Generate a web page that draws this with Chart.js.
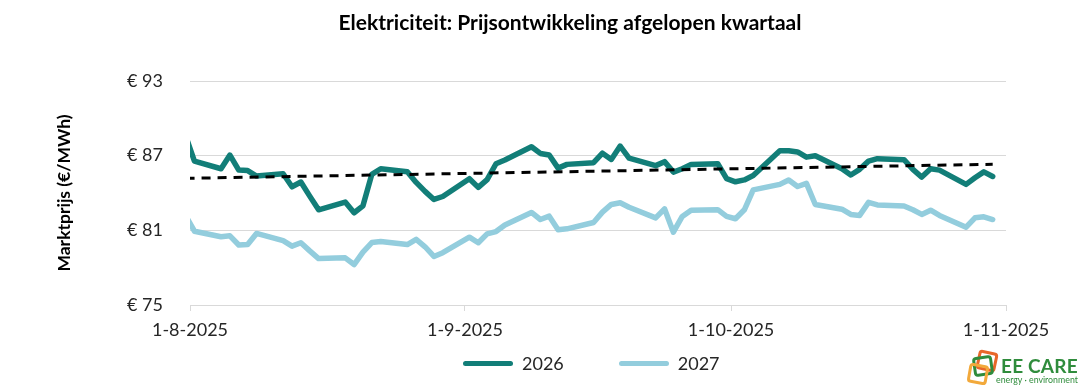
<!DOCTYPE html>
<html lang="nl">
<head>
<meta charset="utf-8">
<title>Elektriciteit: Prijsontwikkeling afgelopen kwartaal</title>
<script src="https://cdn.jsdelivr.net/npm/chart.js@4.4.1/dist/chart.umd.min.js"></script>
<style>
  body { margin: 0; background: #fff; font-family: Lato, sans-serif; }
  .wrap { position: relative; width: 1083px; height: 390px; }
  .chart-title { position: absolute; top: 9px; left: 570px; transform: translateX(-50%); font-weight: bold; font-size: 21px; color: #000; white-space: nowrap; }
  .legend { position: absolute; top: 352px; left: 463px; display: flex; align-items: center; font-size: 18px; color: #262626; }
  .legend .item { display: flex; align-items: center; margin-right: 55px; }
  .legend .swatch { width: 50px; height: 5px; border-radius: 3px; margin-right: 9px; }
  .logo { position: absolute; left: 966px; top: 346px; width: 115px; height: 42px; }
  .logo .sq { position: absolute; width: 14px; height: 14px; border: 3px solid; border-radius: 4px; }
  .logo .name { position: absolute; left: 35px; top: 8px; font-size: 19px; font-weight: bold; color: #2f8c3c; letter-spacing: 0.2px; }
  .logo .sub { position: absolute; left: 30px; top: 28px; font-size: 8.8px; color: #2f8c3c; white-space: nowrap; }
</style>
</head>
<body>
<div class="wrap">
  <canvas id="priceChart" width="1083" height="390"></canvas>
  <div class="chart-title">Elektriciteit: Prijsontwikkeling afgelopen kwartaal</div>
  <div class="legend" id="legend"></div>
  <div class="logo">
    <div class="sq" style="left:11px; top:5px; border-color:#e8672a; transform:rotate(12deg);"></div>
    <div class="sq" style="left:7px; top:10px; border-color:#2f8c3c; transform:rotate(-8deg);"></div>
    <div class="sq" style="left:2px; top:18px; border-color:#f2a93b; transform:rotate(10deg);"></div>
    <div class="name">EE CARE</div>
    <div class="sub">energy · environment</div>
  </div>
</div>
<script>
// Trading days (Excel plots each date in the middle of its day slot)
const priceDates = [
    '2025-07-31',
    '2025-08-01', '2025-08-04', '2025-08-05', '2025-08-06', '2025-08-07', '2025-08-08',
    '2025-08-11', '2025-08-12', '2025-08-13', '2025-08-14', '2025-08-15',
    '2025-08-18', '2025-08-19', '2025-08-20', '2025-08-21', '2025-08-22',
    '2025-08-25', '2025-08-26', '2025-08-27', '2025-08-28', '2025-08-29',
    '2025-09-01', '2025-09-02', '2025-09-03', '2025-09-04', '2025-09-05',
    '2025-09-08', '2025-09-09', '2025-09-10', '2025-09-11', '2025-09-12',
    '2025-09-15', '2025-09-16', '2025-09-17', '2025-09-18', '2025-09-19',
    '2025-09-22', '2025-09-23', '2025-09-24', '2025-09-25', '2025-09-26',
    '2025-09-29', '2025-09-30',
    '2025-10-01', '2025-10-02', '2025-10-03',
    '2025-10-06', '2025-10-07', '2025-10-08', '2025-10-09', '2025-10-10',
    '2025-10-13', '2025-10-14', '2025-10-15', '2025-10-16', '2025-10-17',
    '2025-10-20', '2025-10-21', '2025-10-22', '2025-10-23', '2025-10-24',
    '2025-10-27', '2025-10-28', '2025-10-29', '2025-10-30'
];

const prices2026 = [
    88.6,
    86.56, 85.95, 87.05, 85.84, 85.8, 85.36,
    85.55, 84.5, 84.88, 83.75, 82.65,
    83.27, 82.41, 82.97, 85.5, 85.95,
    85.7, 84.85, 84.13, 83.48, 83.72,
    85.15, 84.45, 85.07, 86.35, 86.65,
    87.72, 87.18, 87.05, 86.0, 86.3,
    86.44, 87.2, 86.7, 87.77, 86.8,
    86.2, 86.52, 85.68, 85.95, 86.3,
    86.36, 85.15,
    84.9, 85.05, 85.4,
    87.4, 87.4, 87.3, 86.88, 87.0,
    85.95, 85.45, 85.9, 86.56, 86.76,
    86.68, 85.9, 85.28, 85.95, 85.84,
    84.69, 85.22, 85.7, 85.33
];

const prices2027 = [
    82.2,
    80.93, 80.48, 80.56, 79.82, 79.86, 80.75,
    80.17, 79.73, 80.0, 79.35, 78.73,
    78.79, 78.25, 79.25, 80.02, 80.1,
    79.86, 80.27, 79.68, 78.9, 79.2,
    80.45, 80.0, 80.72, 80.9, 81.43,
    82.44, 81.87, 82.14, 81.05, 81.12,
    81.63, 82.46, 83.08, 83.22, 82.85,
    82.0, 82.73, 80.85, 82.12, 82.62,
    82.66, 82.12,
    81.93, 82.65, 84.25,
    84.69, 85.05, 84.52, 84.77, 83.08,
    82.7, 82.28, 82.2, 83.25, 83.04,
    82.95, 82.65, 82.28, 82.62, 82.2,
    81.25, 82.01, 82.09, 81.87
];

// Linear trend of the 2026 contract (end points)
const trendDates = ['2025-07-31', '2025-10-30'];
const trend2026 = [85.18, 86.31];

const tickDates = ['2025-08-01', '2025-09-01', '2025-10-01', '2025-11-01'];
const tickLabels = ['1-8-2025', '1-9-2025', '1-10-2025', '1-11-2025'];
const yTicks = [75, 81, 87, 93];

const seriesNames = ['2026', '2027'];
const seriesColors = ['#127e78', '#93cddd'];

// Days since 1-8-2025
const axisStart = Date.UTC(2025, 7, 1);
function dayOf(s) {
    const [y, m, d] = s.split('-').map(Number);
    return (Date.UTC(y, m - 1, d) - axisStart) / 86400000;
}
const tickDays = tickDates.map(dayOf);

function toPoints(dates, values) {
    return dates.map((d, i) => ({ x: dayOf(d) + 0.5, y: values[i] }));
}

const fontFamily = "Lato, 'Open Sans', sans-serif";
Chart.defaults.font.family = fontFamily;
Chart.defaults.color = '#262626';

const ctx = document.getElementById('priceChart').getContext('2d');
const priceChart = new Chart(ctx, {
    type: 'line',
    data: {
        datasets: [
            {
                label: seriesNames[0],
                data: toPoints(priceDates, prices2026),
                borderColor: seriesColors[0],
                borderWidth: 5.5,
                pointRadius: 0,
                tension: 0,
                borderJoinStyle: 'round',
                borderCapStyle: 'round',
                clip: 0,
                order: 2
            },
            {
                label: seriesNames[1],
                data: toPoints(priceDates, prices2027),
                borderColor: seriesColors[1],
                borderWidth: 5.5,
                pointRadius: 0,
                tension: 0,
                borderJoinStyle: 'round',
                borderCapStyle: 'round',
                clip: 0,
                order: 3
            },
            {
                label: 'Trend 2026',
                data: toPoints(trendDates, trend2026),
                borderColor: '#000',
                borderWidth: 3,
                borderDash: [9, 7],
                pointRadius: 0,
                clip: 0,
                order: 1
            }
        ]
    },
    options: {
        responsive: false,
        animation: false,
        events: [],
        layout: {
            padding: { top: 81, right: 77, bottom: 40, left: 0 }
        },
        plugins: {
            legend: { display: false },
            title: { display: false },
            tooltip: { enabled: false }
        },
        scales: {
            x: {
                type: 'linear',
                min: tickDays[0],
                max: tickDays[tickDays.length - 1],
                afterBuildTicks: function (scale) {
                    scale.ticks = tickDays.map(v => ({ value: v }));
                },
                afterFit: function (scale) {
                    scale.height = 45;
                },
                ticks: {
                    autoSkip: false,
                    maxRotation: 0,
                    padding: 8,
                    font: { size: 18 },
                    callback: function (value, index) {
                        return tickLabels[index];
                    }
                },
                grid: {
                    drawOnChartArea: false,
                    tickLength: 6,
                    tickColor: '#d9d9d9'
                },
                border: { color: '#d9d9d9' }
            },
            y: {
                min: yTicks[0],
                max: yTicks[yTicks.length - 1],
                afterBuildTicks: function (scale) {
                    scale.ticks = yTicks.map(v => ({ value: v }));
                },
                afterFit: function (scale) {
                    scale.width = 190;
                },
                ticks: {
                    padding: 27,
                    font: { size: 18 },
                    callback: function (value) {
                        return '€ ' + value;
                    }
                },
                grid: {
                    color: '#d9d9d9',
                    drawTicks: false
                },
                border: { display: false },
                title: {
                    display: true,
                    text: 'Marktprijs (€/MWh)',
                    color: '#000',
                    padding: { top: 54, bottom: 0 },
                    font: { size: 17.5, weight: 'bold' }
                }
            }
        }
    }
});

// Legend below the chart
const legendEl = document.getElementById('legend');
seriesNames.forEach((name, i) => {
    const item = document.createElement('div');
    item.className = 'item';
    item.innerHTML = '<span class="swatch" style="background:' + seriesColors[i] + '"></span><span>' + name + '</span>';
    legendEl.appendChild(item);
});
</script>
</body>
</html>
